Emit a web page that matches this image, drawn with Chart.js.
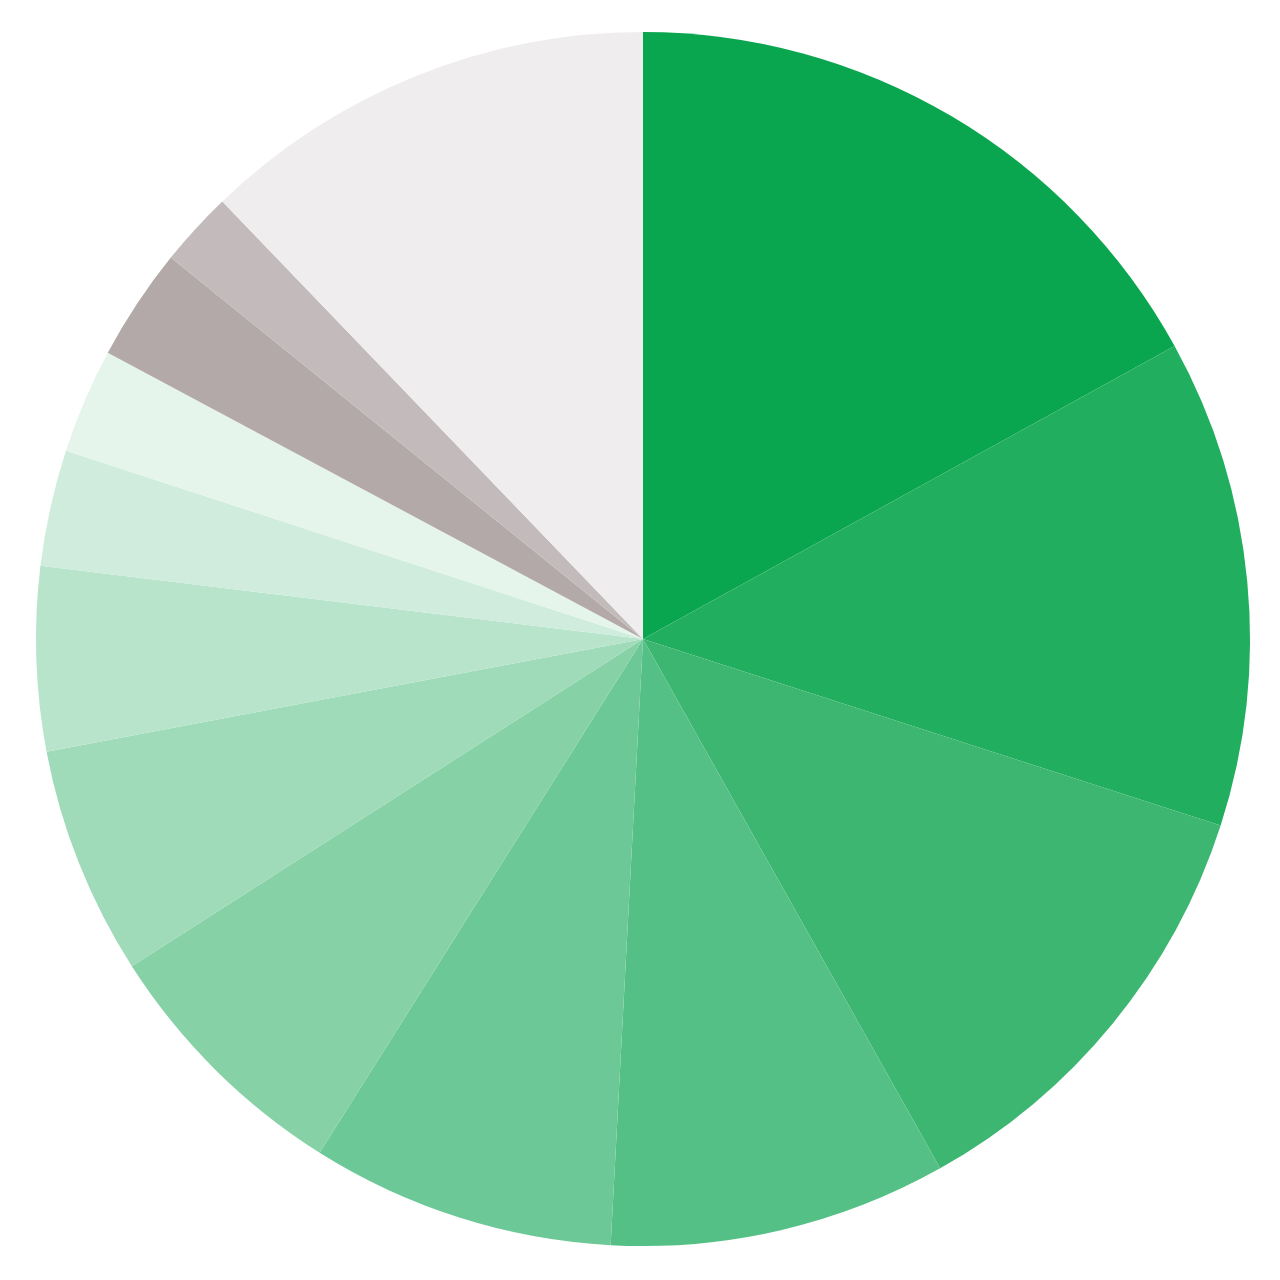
<!DOCTYPE html>
<html>
<head>
<meta charset="utf-8">
<script src="https://cdn.jsdelivr.net/npm/chart.js@4/dist/chart.umd.min.js"></script>
<style>
html,body{margin:0;padding:0;background:#fff;}
#wrap{width:1280px;height:1280px;position:relative;}
</style>
</head>
<body>
<div id="wrap"><canvas id="c" width="1280" height="1280"></canvas></div>
<script>
const categories = ["A","B","C","D","E","F","G","H","I","J","K","L","M"];
const values = [17.0, 13.0, 11.9, 9.0, 8.1, 7.0, 6.1, 4.9, 3.1, 2.8, 3.0, 2.0, 12.2];
const colors = ["#0aa64f","#22ae5f","#3db672","#55c086","#6dc897","#87d1a7","#9fdbb9","#b7e4cb","#cfecdd","#e5f5ec","#b3a9a8","#c3bbbb","#efedee"];

new Chart(document.getElementById('c'), {
  type: 'pie',
  data: {
    labels: categories,
    datasets: [{
      data: values,
      backgroundColor: colors,
      borderWidth: 0,
      hoverOffset: 0
    }]
  },
  options: {
    responsive: false,
    animation: false,
    layout: { padding: { left: 35, right: 29, top: 32, bottom: 34 } },
    plugins: { legend: { display: false }, tooltip: { enabled: false } }
  }
});
</script>
</body>
</html>
